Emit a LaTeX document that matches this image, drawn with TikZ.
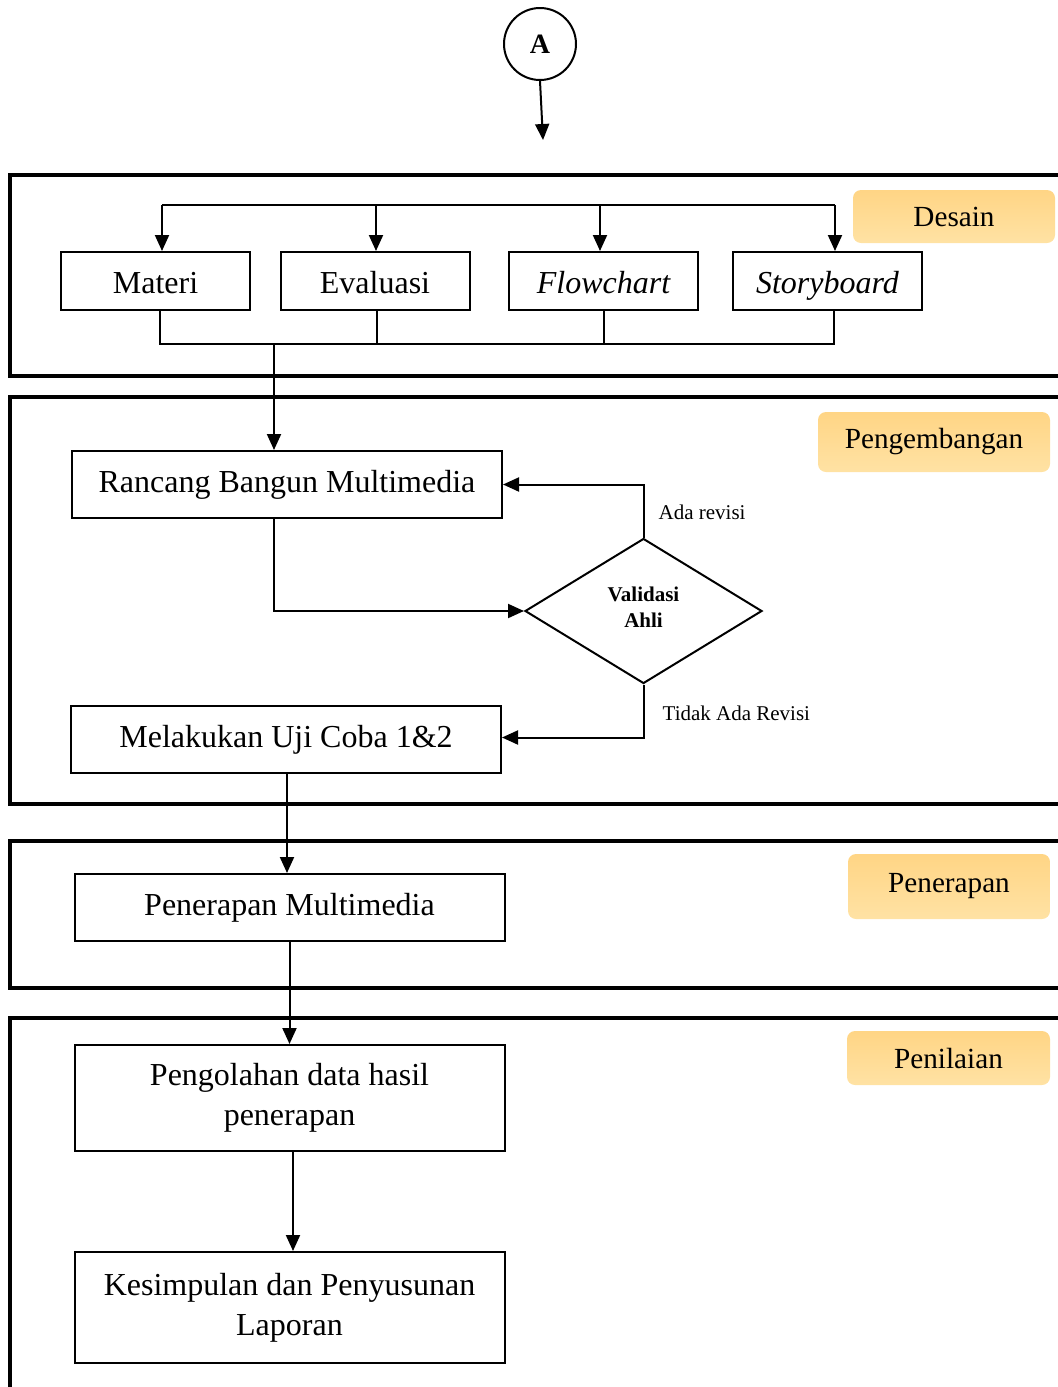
\documentclass[tikz,border=0pt]{standalone}
\usepackage{fontspec}
\setmainfont{Liberation Serif}
\usetikzlibrary{arrows.meta, positioning, shapes.geometric}
\definecolor{phasetop}{HTML}{FFD585}
\definecolor{phasebot}{HTML}{FFE2A4}

\begin{document}
\begin{tikzpicture}[x=0.5pt, y=-0.5pt, ->, >={Triangle[length=8pt,width=7pt]},
	line width=1pt]
	\tikzstyle{panel}=[-, draw, line width=2pt]
	\tikzstyle{phase}=[draw=none, rounded corners=4pt, top color=phasetop,
		bottom color=phasebot, font=\fontsize{14.6}{17}\selectfont]
	\tikzstyle{procbox}=[draw, line width=1pt, align=center,
		font=\fontsize{16}{20}\selectfont]
	\tikzstyle{smallbox}=[procbox, minimum width=94.5pt, minimum height=29pt,
		text height=13pt, text depth=1pt]
	\tikzstyle{bigbox}=[procbox, minimum width=215pt, minimum height=33.5pt]
	\tikzstyle{note}=[font=\fontsize{10.5}{12}\selectfont, anchor=west]

	\useasboundingbox (0,0) rectangle (1057,1387);

	% phase panels
	\draw[panel] (10,175) rectangle (1090,376);
	\draw[panel] (10,397) rectangle (1090,804);
	\draw[panel] (10,841) rectangle (1090,988);
	\draw[panel] (10,1018) rectangle (1090,1420);

	\node[phase, minimum width=101pt, minimum height=26.5pt] (desain) at (954,216.5) {Desain};
	\node[phase, minimum width=116pt, minimum height=30pt] (kembang) at (934,442) {Pengembangan};
	\node[phase, minimum width=101pt, minimum height=32.5pt] (terapan) at (949,886.5) {Penerapan};
	\node[phase, minimum width=101.5pt, minimum height=27pt] (nilai) at (948.5,1058) {Penilaian};

	% start
	\node[draw, circle, minimum size=36pt, inner sep=0pt,
		font=\bfseries\fontsize{14}{16}\selectfont] (a) at (540,44) {A};
	\coordinate (aend) at (543,140);
	\draw (a.south) -- (aend);

	% desain
	\node[smallbox] (mat) at (155.5,281) {Materi};
	\node[smallbox] (eval) at (375,281) {Evaluasi};
	\node[smallbox] (flow) at (603.5,281) {\itshape Flowchart};
	\node[smallbox] (story) at (827.5,281) {\itshape Storyboard};

	\coordinate (busL) at (162,205);
	\coordinate (busR) at (835,205);
	\draw[-] (busL) -- (busR);
	\draw (busL) -- (busL |- mat.north);
	\draw ([xshift=0.5pt]eval.north |- busL) -- ([xshift=0.5pt]eval.north);
	\draw ([xshift=-1.75pt]flow.north |- busL) -- ([xshift=-1.75pt]flow.north);
	\draw (busR) -- (busR |- story.north);

	\coordinate (colL) at (160,344);
	\coordinate (colR) at (834,344);
	\coordinate (join) at (274,344);
	\draw[-] (colL |- mat.south) -- (colL) -- (colR) -- (colR |- story.south);
	\draw[-] ([xshift=1pt]eval.south) -- ([xshift=1pt]eval.south |- colL);
	\draw[-] (flow.south) -- (flow.south |- colL);

	% pengembangan
	\node[bigbox] (rancang) at (287,484.5) {Rancang Bangun Multimedia};
	\node[draw, diamond, minimum width=118.5pt, minimum height=72.5pt, inner sep=0pt,
		align=center, font=\bfseries\fontsize{10.5}{13}\selectfont] (valid) at (643.5,611)
		{Validasi\\Ahli\\[-9pt]\mbox{}};
	\node[bigbox] (uji) at (286,739.5) {Melakukan Uji Coba 1\&2};

	\draw (join) -- (join |- rancang.north);
	\draw ([xshift=-6.5pt]rancang.south) |- (valid.west);
	\draw (valid.north) |- (rancang.east);
	\draw (valid.south) |- ([yshift=1pt]uji.east);
	\node[note] (ada) at (651,512) {Ada revisi};
	\node[note] (tidak) at (655,713) {Tidak Ada Revisi};

	% penerapan
	\node[bigbox] (terap) at (289.5,907.5) {Penerapan Multimedia};
	\draw ([xshift=0.5pt]uji.south) -- ([xshift=0.5pt]uji.south |- terap.north);

	% penilaian
	\node[bigbox, minimum height=53pt] (olah) at (289.5,1098)
		{Pengolahan data hasil\\penerapan};
	\node[bigbox, minimum height=55.5pt] (simpul) at (289.5,1307.5)
		{Kesimpulan dan Penyusunan\\Laporan};
	\draw (terap.south) -- (olah.north);
	\draw ([xshift=1.75pt]olah.south) -- ([xshift=1.75pt]simpul.north);
\end{tikzpicture}
\end{document}
